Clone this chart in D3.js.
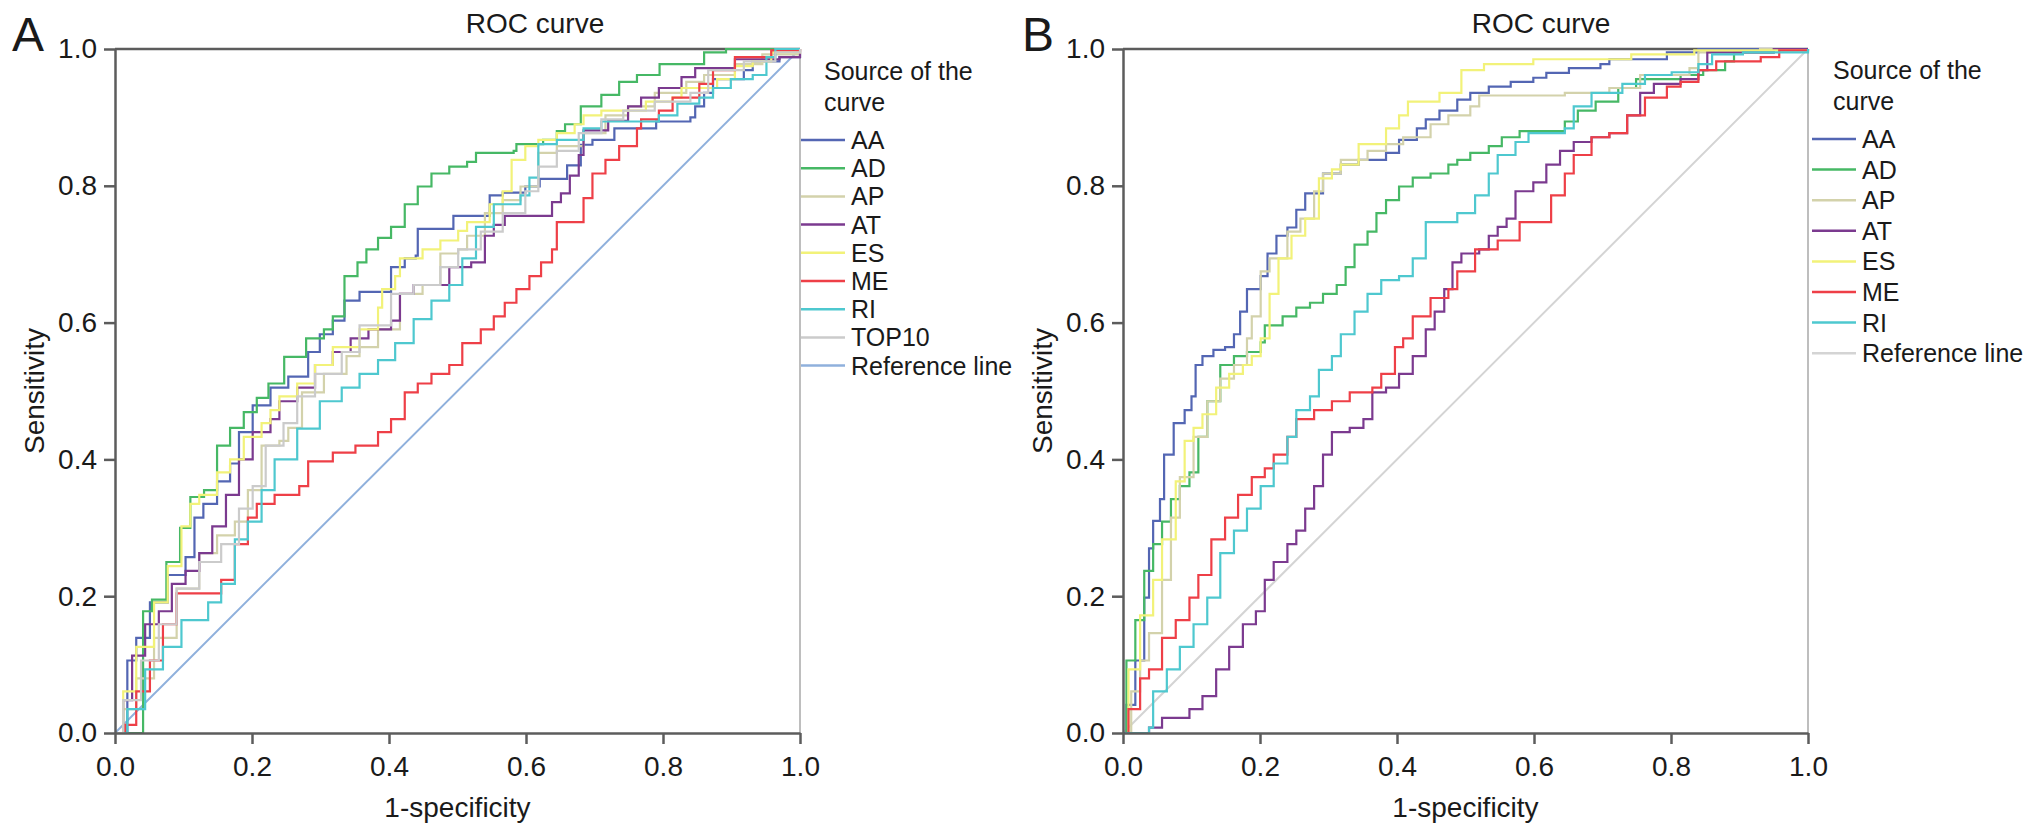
<!DOCTYPE html>
<html>
<head>
<meta charset="utf-8">
<script src="https://cdn.jsdelivr.net/npm/d3@7"></script>
<style>
  body { margin: 0; background: #fff; }
  text { font-family: "Liberation Sans", Arial, Helvetica, sans-serif; fill: #1a1a1a; }
</style>
</head>
<body>
<svg id="chart" width="2032" height="836"></svg>
<script>
// ---- data: [1-specificity, sensitivity] ----
const xTicks = [0, 0.2, 0.4, 0.6, 0.8, 1.0];
const yTicks = [0, 0.2, 0.4, 0.6, 0.8, 1.0];
const namesA = ["AA", "AD", "AP", "AT", "ES", "ME", "RI", "TOP10"];
const namesB = ["AA", "AD", "AP", "AT", "ES", "ME", "RI"];
const refLine = [[0, 0], [1, 1]];

// panel A
const A_AA = [[0,0],[0.018,0.106],[0.031,0.139],[0.051,0.191],[0.077,0.231],[0.103,0.257],[0.116,0.315],[0.129,0.335],[0.149,0.368],[0.168,0.394],[0.181,0.44],[0.201,0.479],[0.227,0.505],[0.253,0.521],[0.273,0.521],[0.282,0.557],[0.299,0.583],[0.318,0.603],[0.335,0.632],[0.357,0.645],[0.384,0.645],[0.403,0.681],[0.423,0.694],[0.439,0.698],[0.442,0.737],[0.481,0.737],[0.494,0.756],[0.52,0.756],[0.547,0.786],[0.566,0.79],[0.599,0.799],[0.62,0.81],[0.66,0.83],[0.68,0.86],[0.697,0.867],[0.729,0.884],[0.79,0.894],[0.84,0.9],[0.847,0.916],[0.86,0.936],[0.873,0.956],[0.918,0.969],[0.931,0.982],[0.97,0.988],[1,1]];
const A_AD = [[0,0],[0.041,0.178],[0.054,0.195],[0.075,0.25],[0.095,0.3],[0.11,0.345],[0.13,0.355],[0.149,0.42],[0.168,0.446],[0.188,0.469],[0.207,0.49],[0.224,0.511],[0.247,0.55],[0.273,0.55],[0.279,0.577],[0.305,0.59],[0.318,0.609],[0.335,0.668],[0.354,0.688],[0.367,0.707],[0.384,0.724],[0.403,0.74],[0.423,0.773],[0.442,0.799],[0.462,0.818],[0.488,0.828],[0.514,0.835],[0.527,0.848],[0.582,0.851],[0.586,0.861],[0.625,0.867],[0.645,0.88],[0.657,0.89],[0.68,0.916],[0.71,0.933],[0.736,0.952],[0.762,0.962],[0.795,0.978],[0.86,0.995],[0.892,1],[1,1]];
const A_AP = [[0,0],[0.012,0.035],[0.031,0.08],[0.057,0.139],[0.09,0.211],[0.123,0.263],[0.149,0.289],[0.175,0.309],[0.194,0.355],[0.214,0.42],[0.24,0.427],[0.253,0.446],[0.273,0.498],[0.305,0.525],[0.338,0.551],[0.357,0.564],[0.384,0.59],[0.416,0.642],[0.449,0.655],[0.475,0.701],[0.501,0.707],[0.514,0.727],[0.54,0.76],[0.566,0.779],[0.592,0.799],[0.618,0.848],[0.645,0.858],[0.684,0.877],[0.716,0.903],[0.749,0.916],[0.788,0.936],[0.834,0.952],[0.86,0.962],[0.905,0.978],[0.945,0.992],[1,1]];
const A_AT = [[0,0],[0.012,0.048],[0.025,0.113],[0.044,0.159],[0.064,0.178],[0.083,0.218],[0.103,0.237],[0.123,0.263],[0.142,0.302],[0.162,0.348],[0.181,0.4],[0.201,0.44],[0.227,0.459],[0.24,0.485],[0.266,0.505],[0.292,0.538],[0.318,0.557],[0.344,0.577],[0.37,0.59],[0.403,0.603],[0.416,0.642],[0.436,0.655],[0.469,0.655],[0.488,0.681],[0.52,0.688],[0.54,0.727],[0.553,0.743],[0.569,0.756],[0.618,0.756],[0.638,0.776],[0.651,0.789],[0.664,0.815],[0.677,0.845],[0.684,0.881],[0.72,0.895],[0.749,0.916],[0.768,0.929],[0.794,0.943],[0.827,0.959],[0.847,0.972],[0.905,0.985],[0.97,0.988],[1,1]];
const A_ES = [[0,0],[0.012,0.061],[0.031,0.126],[0.057,0.191],[0.077,0.244],[0.097,0.302],[0.11,0.335],[0.123,0.348],[0.149,0.381],[0.168,0.4],[0.188,0.433],[0.214,0.453],[0.227,0.472],[0.24,0.492],[0.266,0.511],[0.292,0.538],[0.318,0.564],[0.357,0.59],[0.384,0.622],[0.39,0.649],[0.409,0.668],[0.416,0.694],[0.449,0.707],[0.475,0.72],[0.501,0.734],[0.514,0.747],[0.547,0.773],[0.566,0.792],[0.579,0.838],[0.599,0.858],[0.618,0.867],[0.645,0.877],[0.671,0.89],[0.684,0.903],[0.71,0.91],[0.762,0.91],[0.775,0.923],[0.814,0.929],[0.827,0.943],[0.879,0.956],[0.905,0.975],[0.931,0.982],[0.958,0.995],[1,1]];
const A_ME = [[0,0],[0.015,0.012],[0.031,0.061],[0.051,0.106],[0.07,0.159],[0.09,0.204],[0.132,0.204],[0.155,0.224],[0.175,0.276],[0.194,0.315],[0.207,0.335],[0.233,0.348],[0.269,0.361],[0.282,0.397],[0.318,0.41],[0.351,0.42],[0.384,0.44],[0.403,0.459],[0.423,0.498],[0.442,0.511],[0.462,0.525],[0.488,0.538],[0.507,0.57],[0.534,0.59],[0.553,0.609],[0.569,0.629],[0.586,0.649],[0.605,0.668],[0.622,0.688],[0.638,0.707],[0.645,0.747],[0.68,0.747],[0.684,0.782],[0.697,0.818],[0.716,0.838],[0.736,0.858],[0.762,0.884],[0.768,0.897],[0.794,0.91],[0.814,0.929],[0.853,0.949],[0.873,0.969],[0.905,0.988],[0.938,0.988],[0.958,0.998],[1,1]];
const A_RI = [[0,0],[0.018,0.035],[0.044,0.093],[0.07,0.126],[0.097,0.165],[0.136,0.191],[0.155,0.218],[0.175,0.283],[0.194,0.309],[0.214,0.355],[0.233,0.4],[0.266,0.445],[0.299,0.485],[0.331,0.505],[0.357,0.525],[0.384,0.545],[0.409,0.57],[0.436,0.605],[0.462,0.632],[0.488,0.655],[0.507,0.694],[0.527,0.74],[0.553,0.773],[0.592,0.786],[0.605,0.812],[0.618,0.861],[0.645,0.867],[0.684,0.884],[0.71,0.894],[0.775,0.894],[0.794,0.903],[0.821,0.92],[0.853,0.929],[0.873,0.943],[0.899,0.956],[0.931,0.962],[0.951,0.988],[0.964,1],[1,1]];
const A_TOP10 = [[0,0],[0.012,0.048],[0.038,0.106],[0.064,0.159],[0.09,0.211],[0.123,0.25],[0.155,0.276],[0.181,0.328],[0.201,0.361],[0.22,0.42],[0.246,0.453],[0.266,0.492],[0.292,0.525],[0.331,0.557],[0.357,0.596],[0.403,0.642],[0.436,0.655],[0.475,0.681],[0.501,0.707],[0.534,0.733],[0.566,0.76],[0.599,0.792],[0.618,0.828],[0.645,0.851],[0.677,0.877],[0.71,0.897],[0.742,0.91],[0.788,0.923],[0.84,0.936],[0.866,0.969],[0.918,0.982],[0.964,0.995],[1,1]];

// panel B
const B_AA = [[0,0],[0.005,0.041],[0.018,0.106],[0.031,0.198],[0.038,0.27],[0.044,0.31],[0.054,0.342],[0.06,0.407],[0.074,0.453],[0.09,0.472],[0.1,0.492],[0.106,0.538],[0.116,0.551],[0.132,0.56],[0.149,0.564],[0.162,0.583],[0.171,0.616],[0.181,0.649],[0.201,0.668],[0.211,0.701],[0.224,0.727],[0.24,0.739],[0.253,0.765],[0.266,0.789],[0.279,0.789],[0.292,0.818],[0.318,0.831],[0.344,0.838],[0.384,0.848],[0.403,0.867],[0.429,0.884],[0.442,0.897],[0.462,0.91],[0.488,0.926],[0.507,0.936],[0.534,0.945],[0.566,0.952],[0.599,0.958],[0.618,0.965],[0.651,0.972],[0.697,0.978],[0.71,0.985],[0.788,0.985],[0.794,0.995],[0.84,1],[1,1]];
const B_AD = [[0,0],[0.005,0.106],[0.018,0.165],[0.031,0.237],[0.044,0.276],[0.057,0.309],[0.07,0.342],[0.083,0.361],[0.097,0.381],[0.11,0.433],[0.123,0.485],[0.142,0.538],[0.162,0.551],[0.181,0.557],[0.201,0.571],[0.207,0.596],[0.233,0.609],[0.253,0.622],[0.273,0.629],[0.292,0.642],[0.312,0.655],[0.325,0.681],[0.338,0.714],[0.357,0.733],[0.37,0.76],[0.384,0.779],[0.403,0.799],[0.423,0.812],[0.449,0.818],[0.475,0.831],[0.488,0.838],[0.507,0.848],[0.534,0.858],[0.553,0.871],[0.579,0.88],[0.618,0.88],[0.645,0.894],[0.664,0.91],[0.69,0.923],[0.723,0.943],[0.749,0.956],[0.814,0.962],[0.847,0.969],[0.879,0.982],[0.892,0.995],[0.95,1],[1,1]];
const B_AP = [[0,0],[0.012,0.061],[0.025,0.106],[0.038,0.146],[0.057,0.224],[0.07,0.315],[0.083,0.374],[0.103,0.433],[0.123,0.485],[0.142,0.518],[0.162,0.538],[0.181,0.577],[0.188,0.609],[0.201,0.675],[0.214,0.694],[0.24,0.733],[0.259,0.752],[0.279,0.792],[0.292,0.818],[0.318,0.838],[0.357,0.851],[0.384,0.861],[0.409,0.871],[0.449,0.89],[0.475,0.903],[0.507,0.916],[0.52,0.932],[0.645,0.936],[0.71,0.943],[0.755,0.962],[0.827,0.972],[0.84,0.995],[0.93,1],[1,1]];
const B_AT = [[0,0],[0.038,0.008],[0.057,0.022],[0.097,0.035],[0.116,0.054],[0.136,0.093],[0.155,0.126],[0.175,0.159],[0.194,0.178],[0.207,0.224],[0.22,0.25],[0.24,0.276],[0.253,0.296],[0.266,0.328],[0.279,0.361],[0.292,0.407],[0.305,0.44],[0.331,0.446],[0.351,0.459],[0.364,0.498],[0.384,0.505],[0.403,0.525],[0.423,0.551],[0.442,0.59],[0.455,0.616],[0.469,0.649],[0.481,0.688],[0.494,0.701],[0.52,0.707],[0.534,0.727],[0.547,0.74],[0.56,0.752],[0.573,0.792],[0.599,0.805],[0.618,0.831],[0.638,0.851],[0.658,0.864],[0.684,0.871],[0.71,0.877],[0.736,0.903],[0.755,0.936],[0.775,0.949],[0.814,0.956],[0.84,0.969],[0.853,0.995],[0.95,1],[1,1]];
const B_ES = [[0,0],[0.008,0.093],[0.025,0.172],[0.044,0.224],[0.057,0.283],[0.077,0.368],[0.09,0.427],[0.103,0.446],[0.116,0.466],[0.136,0.505],[0.155,0.525],[0.175,0.538],[0.188,0.551],[0.201,0.577],[0.214,0.642],[0.227,0.694],[0.246,0.727],[0.266,0.752],[0.286,0.811],[0.305,0.824],[0.318,0.831],[0.344,0.861],[0.384,0.884],[0.403,0.903],[0.416,0.923],[0.462,0.936],[0.494,0.949],[0.494,0.969],[0.527,0.978],[0.599,0.985],[0.742,0.992],[0.834,0.998],[1,1]];
const B_ME = [[0,0],[0.008,0.035],[0.025,0.08],[0.038,0.093],[0.057,0.139],[0.077,0.165],[0.097,0.198],[0.11,0.231],[0.129,0.283],[0.149,0.315],[0.168,0.348],[0.188,0.374],[0.207,0.387],[0.22,0.407],[0.24,0.433],[0.253,0.459],[0.279,0.472],[0.305,0.485],[0.331,0.498],[0.364,0.505],[0.377,0.525],[0.397,0.564],[0.409,0.577],[0.423,0.609],[0.449,0.636],[0.475,0.649],[0.488,0.675],[0.514,0.707],[0.547,0.72],[0.579,0.747],[0.605,0.747],[0.625,0.786],[0.645,0.818],[0.658,0.845],[0.684,0.871],[0.71,0.877],[0.736,0.903],[0.762,0.929],[0.794,0.945],[0.814,0.952],[0.84,0.969],[0.866,0.982],[0.931,0.988],[0.958,0.998],[1,1]];
const B_RI = [[0,0],[0.038,0.008],[0.044,0.061],[0.064,0.093],[0.083,0.126],[0.103,0.159],[0.123,0.198],[0.142,0.263],[0.162,0.296],[0.181,0.328],[0.201,0.361],[0.22,0.394],[0.24,0.433],[0.253,0.472],[0.273,0.492],[0.286,0.531],[0.305,0.551],[0.318,0.583],[0.338,0.616],[0.357,0.642],[0.377,0.662],[0.403,0.668],[0.423,0.694],[0.442,0.747],[0.469,0.747],[0.488,0.76],[0.514,0.786],[0.534,0.818],[0.547,0.845],[0.573,0.864],[0.592,0.877],[0.645,0.884],[0.658,0.916],[0.684,0.936],[0.729,0.949],[0.762,0.962],[0.801,0.966],[0.84,0.978],[0.86,0.992],[0.905,0.995],[1,1]];

const seriesA = { AA: A_AA, AD: A_AD, AP: A_AP, AT: A_AT, ES: A_ES, ME: A_ME, RI: A_RI, TOP10: A_TOP10 };
const seriesB = { AA: B_AA, AD: B_AD, AP: B_AP, AT: B_AT, ES: B_ES, ME: B_ME, RI: B_RI };

const colors = {
  AA: "#5366b3", AD: "#46b865", AP: "#d3d2ab", AT: "#7b3a8f",
  ES: "#f2f279", ME: "#ee3f47", RI: "#4ec8cf", TOP10: "#cbcbcb"
};

const svg = d3.select("#chart");

function drawPanel(p) {
  const g = svg.append("g").attr("transform", `translate(${p.left},${p.top})`);
  const x = d3.scaleLinear().domain([0, 1]).range([0, p.w]);
  const y = d3.scaleLinear().domain([0, 1]).range([p.h, 0]);

  // frame: dark top, light right
  g.append("line").attr("x1", 0).attr("x2", p.w).attr("y1", 0).attr("y2", 0)
    .attr("stroke", "#5c5c5c").attr("stroke-width", 2.5);
  g.append("line").attr("x1", p.w).attr("x2", p.w).attr("y1", 0).attr("y2", p.h)
    .attr("stroke", "#a8a8a8").attr("stroke-width", 1.5);

  const straight = d3.line().x(d => x(d[0])).y(d => y(d[1]));
  const step = d3.line().x(d => x(d[0])).y(d => y(d[1])).curve(d3.curveStepAfter);

  g.append("path").datum(refLine)
    .attr("d", straight).attr("fill", "none")
    .attr("stroke", p.refColor).attr("stroke-width", 2);

  p.names.forEach(n => {
    g.append("path").datum(p.series[n])
      .attr("d", step).attr("fill", "none")
      .attr("stroke", colors[n]).attr("stroke-width", 2.2)
      .attr("stroke-linejoin", "miter");
  });

  const fmt = d3.format(".1f");
  const xAxis = g.append("g").attr("transform", `translate(0,${p.h})`)
    .call(d3.axisBottom(x).tickValues(xTicks).tickFormat(fmt)
      .tickSize(11).tickSizeOuter(0).tickPadding(12));
  const yAxis = g.append("g")
    .call(d3.axisLeft(y).tickValues(yTicks).tickFormat(fmt)
      .tickSize(11).tickSizeOuter(0).tickPadding(7));
  [xAxis, yAxis].forEach(a => {
    a.select(".domain").attr("stroke", "#5c5c5c").attr("stroke-width", 2.5);
    a.selectAll(".tick line").attr("stroke", "#5c5c5c").attr("stroke-width", 2.5);
    a.selectAll(".tick text").attr("font-size", 28).attr("fill", "#1a1a1a")
      .style("font-family", '"Liberation Sans", Arial, sans-serif');
  });

  g.append("text").attr("x", p.w / 2).attr("y", p.h + 84)
    .attr("text-anchor", "middle").attr("font-size", 28).text("1-specificity");
  g.append("text")
    .attr("transform", `translate(${-71},${p.h / 2}) rotate(-90)`)
    .attr("text-anchor", "middle").attr("font-size", 28).text("Sensitivity");

  svg.append("text").attr("x", p.titleX).attr("y", 33)
    .attr("text-anchor", "middle").attr("font-size", 28).text("ROC curve");
  svg.append("text").attr("x", p.labelX).attr("y", 51)
    .attr("font-size", 48).text(p.label);

  // legend
  const lg = svg.append("g");
  lg.append("text").attr("x", p.legTitleX).attr("y", p.legTitleY)
    .attr("font-size", 25).text("Source of the");
  lg.append("text").attr("x", p.legTitleX).attr("y", p.legTitleY + 31)
    .attr("font-size", 25).text("curve");
  const items = p.names.concat(["Reference line"]);
  items.forEach((n, i) => {
    const cy = p.legY0 + i * p.legStep;
    lg.append("line").attr("x1", p.legLineX).attr("x2", p.legLineX + 44)
      .attr("y1", cy).attr("y2", cy)
      .attr("stroke", colors[n] || p.refColor).attr("stroke-width", 2.5);
    lg.append("text").attr("x", p.legLineX + 50).attr("y", cy + 9)
      .attr("font-size", 25).text(n);
  });
}

drawPanel({
  left: 115, top: 49, w: 685, h: 684, label: "A", labelX: 12, titleX: 535,
  names: namesA, series: seriesA, refColor: "#8fb0dc",
  legTitleX: 824, legTitleY: 80, legLineX: 801, legY0: 140, legStep: 28.2
});
drawPanel({
  left: 1123, top: 49, w: 685, h: 684, label: "B", labelX: 1022, titleX: 1541,
  names: namesB, series: seriesB, refColor: "#d4d4d4",
  legTitleX: 1833, legTitleY: 79, legLineX: 1812, legY0: 139, legStep: 30.6
});
</script>
</body>
</html>
